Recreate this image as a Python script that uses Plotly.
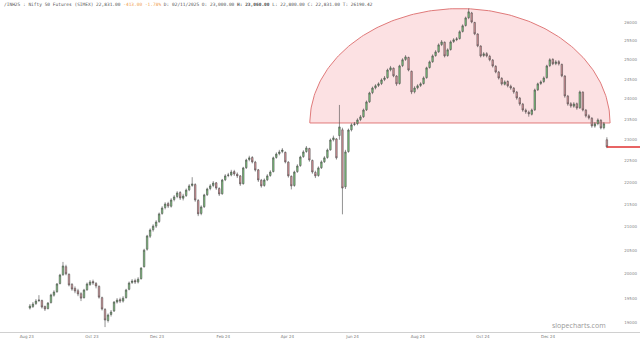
import numpy as np
import pandas as pd
import plotly.graph_objects as go

# ---- data ----
opens = [19300,19330,19390,19450,19450,19330,19290,19410,19560,19630,19800,19980,20150,19990,19780,19700,19650,19590,19510,19670,
         19780,19840,19800,19740,19510,19270,19050,19170,19240,19420,19470,19440,19510,19680,19820,19860,19830,19900,20150,20520,
         20800,20940,21020,21120,21300,21430,21520,21460,21610,21680,21770,21640,21700,21830,21930,21950,21590,21300,21450,21720,
         21860,21930,21990,21860,21740,22060,22160,22170,22250,22190,22150,21970,22340,22530,22580,22470,22290,22050,21930,22060,
         22160,22250,22580,22670,22720,22700,22470,22140,21930,22250,22390,22600,22720,22790,22510,22230,22160,22340,22480,22580,
         22760,23000,23020,23100,23240,21900,22720,23240,23370,23390,23490,23560,23730,23930,24160,24280,24340,24390,24490,24540,
         24740,24780,24580,24390,24850,25010,25060,24700,24180,24280,24340,24390,24540,24800,24950,25110,25210,25400,25460,25110,
         25270,25480,25530,25560,25750,25910,26120,26250,25990,25680,25360,25110,25160,25090,24990,24830,24680,24520,24370,24440,
         24320,24270,24170,24020,23870,23720,23670,23620,23730,24230,24390,24440,24540,24850,25010,24900,24950,24880,24580,24070,
         23880,23820,23880,23780,24170,23720,23580,23520,23330,23390,23470,23290,23000]
highs = [19380,19420,19480,19560,19470,19350,19420,19590,19660,19810,20000,20250,20190,20010,19810,19740,19690,19620,19690,19820,
         19870,19880,19830,19760,19530,19300,19190,19260,19440,19500,19510,19540,19690,19840,19890,19900,19930,20140,20530,20830,
         20970,21060,21150,21320,21460,21550,21560,21640,21710,21800,21800,21740,21860,21960,22120,21980,21620,21480,21740,21880,
         21960,22030,22010,21890,22080,22190,22220,22290,22290,22230,22170,22360,22550,22620,22610,22500,22310,22080,22090,22190,
         22280,22600,22700,22760,22800,22720,22490,22160,22270,22420,22620,22750,22850,22810,22530,22270,22370,22510,22610,22790,
         23030,23100,23040,23850,23290,22760,23270,23400,23430,23520,23600,23760,23960,24180,24310,24370,24420,24520,24580,24770,
         24840,24800,24600,24870,25040,25120,25080,24720,24320,24370,24420,24570,24820,24980,25140,25250,25430,25520,25480,25300,
         25510,25570,25600,25780,25940,26150,26370,26280,26010,25700,25380,25200,25200,25130,25020,24860,24710,24550,24470,24470,
         24360,24300,24200,24050,23900,23760,23710,23760,24260,24410,24470,24570,24870,25040,25040,24990,24990,24900,24600,24100,
         23920,23920,23910,24210,24190,23750,23620,23550,23430,23520,23500,23430,23060]
lows = [19270,19300,19360,19420,19290,19240,19270,19390,19530,19610,19780,19960,19970,19740,19650,19600,19540,19440,19490,19650,
        19750,19770,19700,19490,19250,18920,19010,19130,19220,19390,19400,19410,19490,19660,19790,19790,19800,19880,20130,20490,
        20760,20900,20980,21090,21270,21390,21420,21430,21570,21640,21600,21590,21670,21800,21900,21560,21240,21260,21420,21690,
        21820,21890,21830,21690,21720,22030,22120,22140,22150,22100,21920,21950,22310,22490,22440,22250,22010,21880,21900,22030,
        22130,22230,22550,22630,22680,22440,22110,21840,21900,22220,22360,22570,22690,22480,22200,22100,22130,22310,22450,22550,
        22740,22960,22530,23000,21280,21850,22690,23200,23330,23350,23450,23530,23700,23900,24120,24240,24300,24350,24450,24510,
        24700,24550,24330,24360,24810,24970,24700,24120,24140,24240,24300,24360,24510,24770,24920,25080,25180,25360,25060,25080,
        25240,25440,25490,25530,25720,25880,26080,25970,25650,25330,25060,25070,25060,24960,24800,24650,24490,24340,24340,24290,
        24230,24130,23980,23830,23680,23630,23560,23590,23700,24200,24350,24400,24510,24810,24860,24860,24850,24550,24030,23830,
        23780,23780,23730,23750,23690,23540,23490,23290,23290,23350,23250,23250,22800]
closes = [19340,19380,19440,19460,19320,19280,19400,19565,19625,19790,19975,20165,20000,19770,19685,19645,19585,19500,19665,19790,
          19830,19810,19750,19520,19280,19060,19160,19220,19420,19460,19440,19500,19665,19810,19850,19830,19890,20120,20500,20805,
          20935,21020,21110,21290,21420,21510,21465,21600,21670,21760,21645,21690,21825,21920,21965,21600,21290,21445,21715,21850,
          21920,21985,21870,21735,22055,22150,22170,22240,22195,22150,21965,22335,22520,22570,22475,22285,22055,21920,22055,22150,
          22240,22570,22660,22710,22755,22475,22150,21920,22240,22380,22590,22710,22805,22520,22240,22150,22335,22475,22570,22755,
          22995,23045,22570,23310,21870,22710,23235,23360,23380,23480,23555,23725,23925,24150,24275,24330,24380,24480,24530,24735,
          24790,24585,24380,24840,25000,25075,24735,24175,24275,24330,24380,24530,24790,24945,25100,25205,25390,25470,25100,25260,
          25470,25525,25550,25740,25900,26115,26280,26005,25685,25365,25100,25155,25100,25000,24840,24685,24530,24380,24430,24330,
          24275,24175,24025,23875,23725,23680,23630,23725,24225,24380,24430,24530,24840,25000,24895,24945,24895,24585,24075,23875,
          23825,23875,23775,24175,23725,23580,23530,23335,23385,23480,23285,23385,22830]

first_date = "2023-08-18"
last_date = "2025-02-08"
x_range = ["2023-07-21", "2025-03-11"]

x_tick_dates = ["2023-08-15", "2023-10-15", "2023-12-15", "2024-02-15", "2024-04-15",
                "2024-06-15", "2024-08-15", "2024-10-15", "2024-12-15"]
x_tick_labels = ["Aug 23", "Oct 23", "Dec 23", "Feb 24", "Apr 24",
                 "Jun 24", "Aug 24", "Oct 24", "Dec 24"]

y_tick_values = [19000, 19500, 20000, 20500, 21000, 21500, 22000, 22500,
                 23000, 23500, 24000, 24500, 25000, 25500, 26000]
y_tick_labels = [str(v) for v in y_tick_values]
y_log_range = [4.2747, 4.4250]

# semicircle (top formation) and last-price line
arc_left, arc_right = "2024-05-06", "2025-02-11"
arc_base, arc_top = 23406, 26370
last_level = closes[-1]

header = ("/INH25 : Nifty 50 Futures (SIMEX) 22,831.00 "
          "<span style='color:#f0a050'>-413.00 -1.78%</span> "
          "D: 02/11/2025 O: 23,000.00 <b>H: 23,060.00</b> L: 22,800.00 C: 22,831.00 T: 26190.42")

dates = pd.date_range(first_date, last_date, periods=len(closes))

# ---- figure ----
fig = go.Figure()

# arc on base axes (drawn beneath), everything else on overlaying axes
theta = np.linspace(0, np.pi, 181)
t0 = pd.Timestamp(arc_left).value
t1 = pd.Timestamp(arc_right).value
mid, half = (t0 + t1) / 2, (t1 - t0) / 2
arc_x = pd.to_datetime(mid + half * np.cos(theta))
arc_y = np.exp(np.log(arc_base) + (np.log(arc_top) - np.log(arc_base)) * np.sin(theta))
arc_x = list(arc_x) + [arc_x[0]]
arc_y = list(arc_y) + [arc_y[0]]
fig.add_trace(go.Scatter(x=arc_x, y=arc_y, mode="lines", fill="toself",
                         fillcolor="rgba(250,205,208,0.6)",
                         line=dict(color="#e07a7a", width=1), hoverinfo="skip"))

fig.add_trace(go.Candlestick(
    x=dates, open=opens, high=highs, low=lows, close=closes,
    increasing=dict(line=dict(color="#4a4a4a", width=0.6), fillcolor="#7fd07f"),
    decreasing=dict(line=dict(color="#4a4a4a", width=0.6), fillcolor="#e89aa0"),
    whiskerwidth=0, xaxis="x2", yaxis="y2",
))

fig.add_trace(go.Scatter(x=[dates[-1], pd.Timestamp(x_range[1])], y=[last_level, last_level],
                         mode="lines", line=dict(color="#e03030", width=1.5),
                         hoverinfo="skip", xaxis="x2", yaxis="y2"))

fig.update_layout(
    width=640, height=344,
    margin=dict(l=0, r=0, t=0, b=12),
    paper_bgcolor="white", plot_bgcolor="white",
    showlegend=False,
    xaxis=dict(type="date", range=x_range, tickvals=x_tick_dates, ticktext=x_tick_labels,
               showgrid=False, zeroline=False,
               showline=True, linecolor="#d0d0d0", linewidth=1, ticks="",
               tickfont=dict(size=4, color="#777", family="DejaVu Sans"),
               rangeslider=dict(visible=False)),
    yaxis=dict(type="log", range=y_log_range, side="right",
               tickvals=y_tick_values, ticktext=y_tick_labels,
               ticklabelposition="inside", showgrid=False, zeroline=False,
               showline=False, ticks="",
               tickfont=dict(size=4, color="#888", family="DejaVu Sans")),
    xaxis2=dict(type="date", range=x_range, overlaying="x", visible=False,
                rangeslider=dict(visible=False)),
    yaxis2=dict(type="log", range=y_log_range, overlaying="y", visible=False),
)

fig.add_annotation(text=header, xref="paper", yref="paper", x=0.003, y=1.0,
                   xanchor="left", yanchor="top", showarrow=False,
                   font=dict(size=4.5, color="#555", family="DejaVu Sans Mono"))
fig.add_annotation(text="slopecharts.com", xref="paper", yref="paper", x=0.95, y=0.0,
                   xanchor="right", yanchor="bottom", showarrow=False,
                   font=dict(size=7, color="#999", family="Open Sans"))

fig.write_html("out.html")
